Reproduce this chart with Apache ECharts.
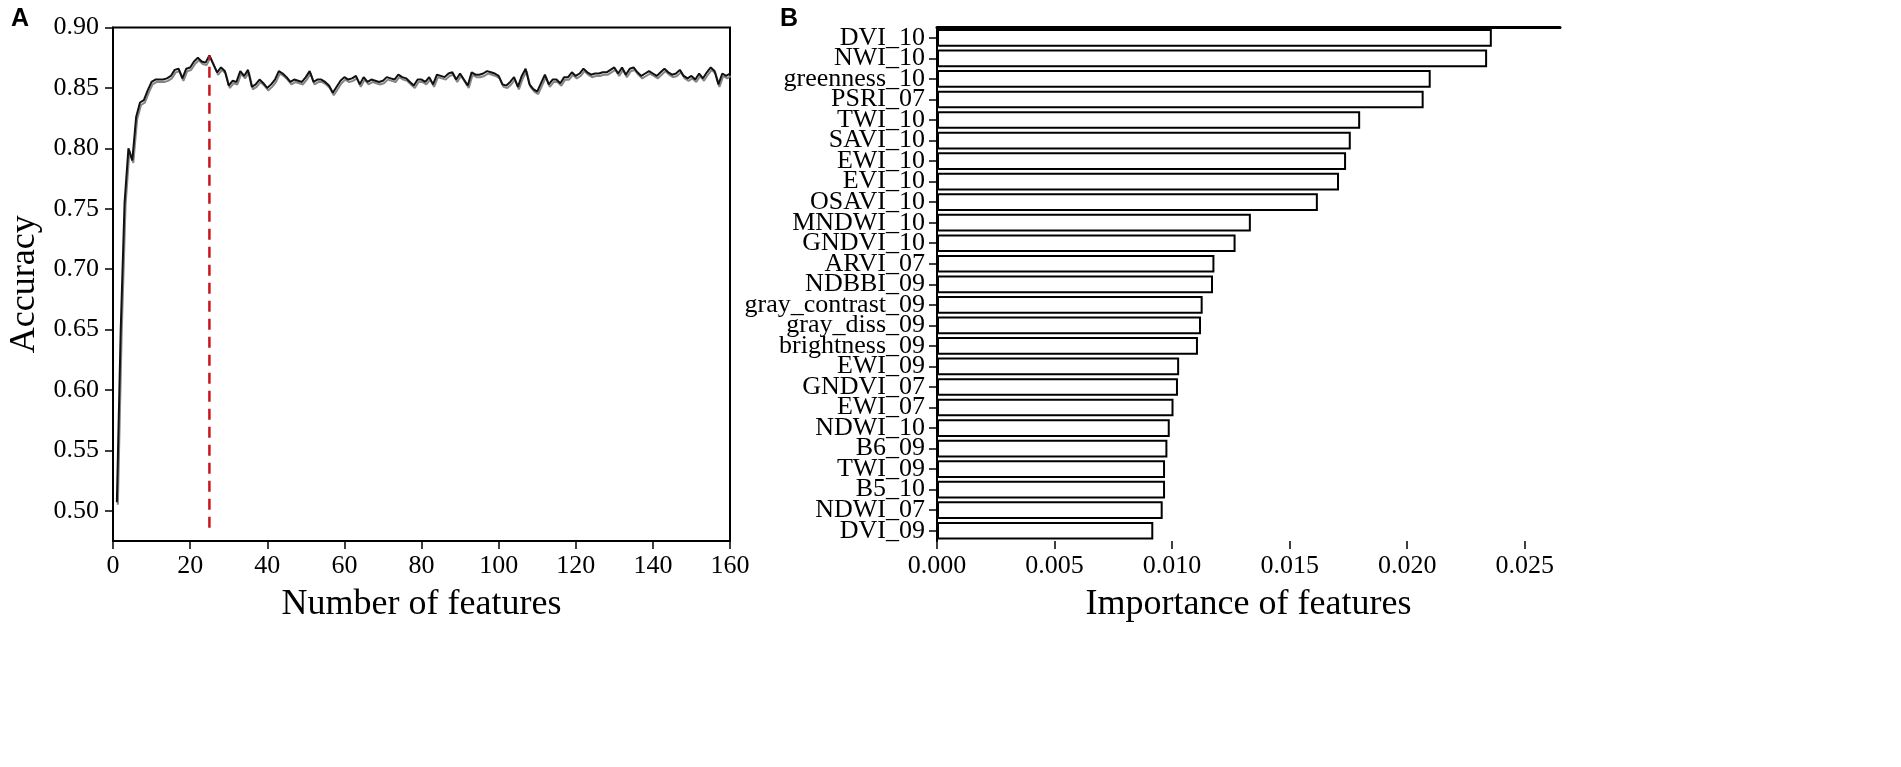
<!DOCTYPE html>
<html>
<head>
<meta charset="utf-8">
<script src="https://cdn.jsdelivr.net/npm/echarts@6/dist/echarts.min.js"></script>
<style>
html,body{margin:0;padding:0;background:#fff;}
#c{width:1901px;height:767px;}
</style>
</head>
<body>
<div id="c"></div>
<script>
// ---- Panel A data: accuracy vs number of features (1..160) ----
const accuracy = [
0.507,0.650,0.755,0.800,0.790,0.826,0.838,0.840,0.848,0.855,
0.857,0.857,0.857,0.858,0.860,0.865,0.866,0.858,0.866,0.867,
0.872,0.875,0.872,0.871,0.877,0.870,0.863,0.867,0.864,0.852,
0.856,0.855,0.864,0.860,0.865,0.851,0.853,0.857,0.854,0.850,
0.853,0.857,0.864,0.862,0.859,0.855,0.857,0.856,0.855,0.859,
0.864,0.855,0.857,0.857,0.855,0.852,0.846,0.851,0.856,0.859,
0.857,0.858,0.860,0.853,0.859,0.855,0.857,0.856,0.855,0.856,
0.859,0.858,0.857,0.861,0.859,0.858,0.855,0.852,0.857,0.857,
0.855,0.859,0.853,0.861,0.860,0.859,0.862,0.863,0.857,0.862,
0.857,0.852,0.863,0.861,0.861,0.862,0.864,0.863,0.862,0.860,
0.853,0.852,0.855,0.859,0.851,0.860,0.866,0.853,0.849,0.847,
0.854,0.861,0.853,0.857,0.857,0.854,0.859,0.859,0.863,0.860,
0.862,0.866,0.863,0.861,0.862,0.862,0.863,0.863,0.865,0.867,
0.862,0.867,0.861,0.866,0.867,0.863,0.860,0.862,0.864,0.862,
0.860,0.863,0.866,0.863,0.861,0.862,0.865,0.860,0.858,0.860,
0.857,0.862,0.858,0.863,0.867,0.864,0.853,0.862,0.860,0.862
];
const peakFeatures = 25;
const peakAccuracy = 0.877;
const dashBottom = 0.486;
const accuracyTicks = [0.50,0.55,0.60,0.65,0.70,0.75,0.80,0.85,0.90];
const featureTicks = [0,20,40,60,80,100,120,140,160];

// ---- Panel B data: feature importance ----
const featureNames = ['DVI_10','NWI_10','greenness_10','PSRI_07','TWI_10','SAVI_10','EWI_10','EVI_10','OSAVI_10','MNDWI_10','GNDVI_10','ARVI_07','NDBBI_09','gray_contrast_09','gray_diss_09','brightness_09','EWI_09','GNDVI_07','EWI_07','NDWI_10','B6_09','TWI_09','B5_10','NDWI_07','DVI_09'];
const importance = [0.0236,0.0234,0.0210,0.0207,0.0180,0.0176,0.0174,0.0171,0.0162,0.01335,0.0127,0.0118,0.01174,0.0113,0.01123,0.0111,0.0103,0.01025,0.01006,0.0099,0.0098,0.0097,0.0097,0.0096,0.0092];
const importanceTicks = [0,0.005,0.010,0.015,0.020,0.025];

const SERIF = "'Liberation Serif','DejaVu Serif',serif";
const chart = echarts.init(document.getElementById('c'));

const linePts = accuracy.map((v,i)=>[i+1, v]);

chart.setOption({
  animation:false,
  backgroundColor:'#fff',
  title:[
    {text:'A', left:6, top:2, textStyle:{fontFamily:"'Liberation Sans',Arial,sans-serif",fontWeight:'bold',fontSize:25,color:'#000'}},
    {text:'B', left:775, top:2, textStyle:{fontFamily:"'Liberation Sans',Arial,sans-serif",fontWeight:'bold',fontSize:25,color:'#000'}}
  ],
  grid:[
    {left:113, top:27.6, width:617, height:513.4, show:true, borderColor:'#000', borderWidth:2, backgroundColor:'transparent'},
    {left:937, top:27.6, width:623, height:513.4}
  ],
  xAxis:[
    {gridIndex:0, type:'value', min:0, max:160, interval:20,
     name:'Number of features', nameLocation:'middle', nameGap:46,
     nameTextStyle:{fontFamily:SERIF,fontSize:36,color:'#000'},
     axisLine:{show:true,lineStyle:{color:'#000',width:2}},
     axisTick:{show:true,length:8,lineStyle:{color:'#000',width:1.5}},
     axisLabel:{fontFamily:SERIF,fontSize:26,color:'#000',margin:12},
     splitLine:{show:false}},
    {gridIndex:1, type:'value', min:0, max:0.0265,
     name:'Importance of features', nameLocation:'middle', nameGap:46,
     nameTextStyle:{fontFamily:SERIF,fontSize:36,color:'#000'},
     axisLine:{show:false},
     axisTick:{show:true,length:8,lineStyle:{color:'#000',width:1.5},customValues:importanceTicks},
     axisLabel:{fontFamily:SERIF,fontSize:26,color:'#000',margin:12,customValues:importanceTicks,
       formatter:function(v){ return v.toFixed(3); }},
     splitLine:{show:false}},
    {gridIndex:1, type:'value', position:'top', min:0, max:0.0265,
     axisLine:{show:true,lineStyle:{color:'#000',width:3}},
     axisTick:{show:false}, axisLabel:{show:false}, splitLine:{show:false}}
  ],
  yAxis:[
    {gridIndex:0, type:'value', min:0.475, max:0.90,
     name:'Accuracy', nameLocation:'middle', nameGap:70,
     nameTextStyle:{fontFamily:SERIF,fontSize:36,color:'#000'},
     axisLine:{show:true,lineStyle:{color:'#000',width:2}},
     axisTick:{show:true,length:8,lineStyle:{color:'#000',width:1.5},customValues:accuracyTicks},
     axisLabel:{fontFamily:SERIF,fontSize:26,color:'#000',margin:14,customValues:accuracyTicks,
       formatter:function(v){return v.toFixed(2);}},
     splitLine:{show:false}},
    {gridIndex:1, type:'category', data:featureNames, inverse:true,
     axisLine:{show:true,lineStyle:{color:'#000',width:2}},
     axisTick:{show:true,alignWithLabel:true,length:8,lineStyle:{color:'#000',width:1.5}},
     axisLabel:{fontFamily:SERIF,fontSize:26,color:'#000',margin:12,interval:0,lineHeight:22},
     splitLine:{show:false}}
  ],
  series:[
    {type:'line', xAxisIndex:0, yAxisIndex:0, data:linePts, showSymbol:false, symbol:'none',
     lineStyle:{color:'#111',width:2,shadowColor:'rgba(120,120,120,0.9)',shadowBlur:0,shadowOffsetX:1,shadowOffsetY:2.5},
     z:3},
    {type:'line', xAxisIndex:0, yAxisIndex:0, data:[[peakFeatures,dashBottom],[peakFeatures,peakAccuracy]],
     showSymbol:false, symbol:'none',
     lineStyle:{color:'#c8161d',width:2.5,type:[11,7]}, z:4},
    {type:'bar', xAxisIndex:1, yAxisIndex:1, data:importance, barCategoryGap:'14%',
     itemStyle:{color:'#fff',borderColor:'#000',borderWidth:2}}
  ]
});
</script>
</body>
</html>
